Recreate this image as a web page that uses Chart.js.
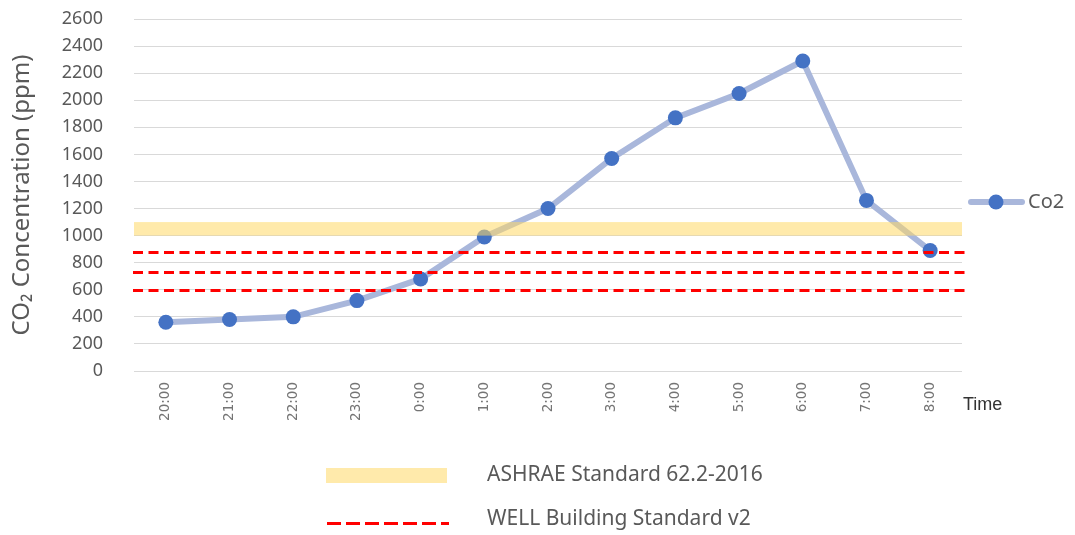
<!DOCTYPE html>
<html lang="en">
<head>
    <meta charset="UTF-8">
    <title>CO2 Concentration</title>
    <script src="https://cdn.jsdelivr.net/npm/chart.js"></script>
    <style>
        body {
            margin: 0;
            padding: 0;
            background-color: #fff;
        }

        .chart-container {
            position: relative;
            width: 1075px;
            height: 535px;
        }
    </style>
</head>
<body>
    <div class="chart-container">
        <canvas id="co2Chart"></canvas>
    </div>

    <script>
        // Hourly readings
        const timeLabels = ['20:00', '21:00', '22:00', '23:00', '0:00', '1:00', '2:00',
            '3:00', '4:00', '5:00', '6:00', '7:00', '8:00'];
        const co2Values = [360, 380, 400, 520, 680, 990, 1200, 1570, 1870, 2050, 2290, 1260, 890];

        // Axis range
        const yMin = 0;
        const yMax = 2600;
        const yStep = 200;

        // Reference limits
        const ashraeBand = [1000, 1100];
        const wellLimits = [600, 730, 880];

        const lineColor = '#A9B7DB';
        const pointColor = '#4472C4';
        const bandColor = 'rgba(255, 217, 102, 0.55)';
        const wellColor = '#FF0000';
        const textColor = '#595959';

        // Standards are painted over the series, legends are drawn by hand
        const overlayPlugin = {
            id: 'overlay',
            afterDatasetsDraw(chart) {
                const { ctx, chartArea, scales } = chart;
                const y = scales.y;
                ctx.save();

                const top = y.getPixelForValue(ashraeBand[1]);
                const bottom = y.getPixelForValue(ashraeBand[0]);
                ctx.fillStyle = bandColor;
                ctx.fillRect(chartArea.left, top, chartArea.right - chartArea.left, bottom - top);

                ctx.strokeStyle = wellColor;
                ctx.lineWidth = 3;
                ctx.setLineDash([10, 5.5]);
                wellLimits.forEach(v => {
                    const py = Math.round(y.getPixelForValue(v)) + 0.5;
                    ctx.beginPath();
                    ctx.moveTo(chartArea.left - 1, py);
                    ctx.lineTo(chartArea.right + 3, py);
                    ctx.stroke();
                });
                ctx.restore();
            },
            afterDraw(chart) {
                const { ctx, chartArea } = chart;
                ctx.save();

                // series legend
                const ly = 202;
                ctx.strokeStyle = lineColor;
                ctx.lineWidth = 6;
                ctx.lineCap = 'round';
                ctx.beginPath();
                ctx.moveTo(971, ly);
                ctx.lineTo(1022, ly);
                ctx.stroke();
                ctx.fillStyle = pointColor;
                ctx.beginPath();
                ctx.arc(996, ly, 7.5, 0, Math.PI * 2);
                ctx.fill();
                ctx.fillStyle = textColor;
                ctx.font = '20px "Noto Sans"';
                ctx.textBaseline = 'middle';
                ctx.textAlign = 'left';
                ctx.fillText('Co2', 1028, ly);

                // x axis name
                ctx.fillStyle = '#333';
                ctx.font = '18px "Liberation Sans"';
                ctx.fillText('Time', chartArea.right + 1, 405);

                // standards legend
                ctx.fillStyle = bandColor;
                ctx.fillRect(326, 468, 121, 15);
                ctx.strokeStyle = wellColor;
                ctx.lineWidth = 3;
                ctx.lineCap = 'butt';
                ctx.setLineDash([14, 5]);
                ctx.beginPath();
                ctx.moveTo(327, 523.5);
                ctx.lineTo(449, 523.5);
                ctx.stroke();

                ctx.fillStyle = textColor;
                ctx.font = '21px "Noto Sans"';
                ctx.fillText('ASHRAE Standard 62.2-2016', 487, 475);
                ctx.fillText('WELL Building Standard v2', 487, 519);
                ctx.restore();
            }
        };

        const co2Ctx = document.getElementById('co2Chart').getContext('2d');
        const co2Chart = new Chart(co2Ctx, {
            type: 'line',
            data: {
                labels: timeLabels,
                datasets: [{
                    label: 'Co2',
                    data: co2Values,
                    borderColor: lineColor,
                    borderWidth: 6,
                    pointRadius: 7.5,
                    pointBackgroundColor: pointColor,
                    pointBorderWidth: 0,
                    pointHoverRadius: 7.5,
                    tension: 0
                }]
            },
            options: {
                responsive: true,
                maintainAspectRatio: false,
                animation: false,
                layout: {
                    padding: { top: 19, right: 113, bottom: 0, left: 0 }
                },
                plugins: {
                    legend: { display: false },
                    tooltip: { enabled: false }
                },
                scales: {
                    x: {
                        offset: true,
                        grid: { display: false, drawTicks: false },
                        border: { display: false },
                        ticks: {
                            autoSkip: false,
                            minRotation: 90,
                            maxRotation: 90,
                            padding: 11,
                            color: '#747474',
                            font: { family: '"DejaVu Sans"', size: 13.5 }
                        },
                        afterFit(scale) {
                            scale.height = 164;
                            scale.paddingLeft = 0;
                            scale.paddingRight = 0;
                            scale.paddingTop = 0;
                            scale.paddingBottom = 0;
                        }
                    },
                    y: {
                        min: yMin,
                        max: yMax,
                        grid: { color: '#D9D9D9', lineWidth: 1, drawTicks: false },
                        border: { display: false },
                        ticks: {
                            stepSize: yStep,
                            padding: 31,
                            color: textColor,
                            font: { family: '"Noto Sans"', size: 18 },
                            callback: value => String(value)
                        },
                        title: {
                            display: true,
                            text: 'CO₂ Concentration (ppm)',
                            color: textColor,
                            font: { family: '"Noto Sans"', size: 24 },
                            padding: { top: 8, bottom: 0 }
                        },
                        afterFit(scale) {
                            scale.width = 134;
                            scale.paddingTop = 0;
                            scale.paddingBottom = 0;
                        }
                    }
                }
            },
            plugins: [overlayPlugin]
        });
    </script>
</body>
</html>
